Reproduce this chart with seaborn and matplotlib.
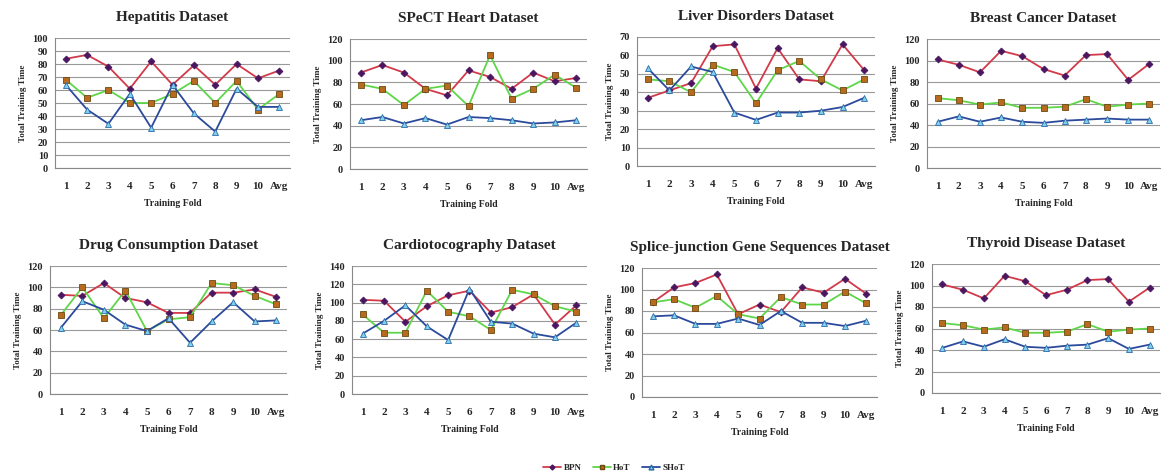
import pandas as pd
import numpy as np
import matplotlib
matplotlib.use("Agg")
import matplotlib.pyplot as plt
from matplotlib.lines import Line2D
import seaborn as sns

# fold labels shared by every panel
folds = ["1", "2", "3", "4", "5", "6", "7", "8", "9", "10", "Avg"]

# training times, one list per method and dataset
hep_bpn = [84, 87, 78, 61, 82, 64, 79, 64, 80, 69, 75]
hep_hot = [68, 54, 60, 50, 50, 57, 67, 50, 67, 45, 57]
hep_shot = [64, 45, 34, 57, 31, 64, 42, 28, 61, 47, 47]

spect_bpn = [89, 96, 89, 74, 68, 91, 85, 74, 89, 81, 84]
spect_hot = [78, 74, 59, 74, 77, 58, 105, 65, 74, 87, 75]
spect_shot = [45, 48, 42, 47, 41, 48, 47, 45, 42, 43, 45]

liver_bpn = [37, 41, 45, 65, 66, 42, 64, 47, 46, 66, 52]
liver_hot = [47, 46, 40, 55, 51, 34, 52, 57, 47, 41, 47]
liver_shot = [53, 41, 54, 51, 29, 25, 29, 29, 30, 32, 37]

breast_bpn = [101, 96, 89, 109, 104, 92, 86, 105, 106, 82, 97]
breast_hot = [65, 63, 59, 61, 56, 56, 57, 64, 57, 59, 60]
breast_shot = [43, 48, 43, 47, 43, 42, 44, 45, 46, 45, 45]

drug_bpn = [93, 92, 104, 90, 86, 76, 76, 95, 95, 98, 91]
drug_hot = [74, 100, 71, 97, 59, 70, 72, 104, 102, 92, 84]
drug_shot = [62, 87, 79, 65, 59, 71, 48, 68, 86, 68, 69]

cardio_bpn = [103, 102, 79, 96, 108, 113, 89, 95, 109, 76, 97]
cardio_hot = [87, 67, 67, 113, 90, 85, 70, 114, 109, 96, 90]
cardio_shot = [66, 80, 97, 74, 59, 115, 79, 77, 66, 62, 78]

splice_bpn = [88, 102, 106, 114, 77, 86, 79, 102, 97, 110, 96]
splice_hot = [88, 91, 83, 94, 77, 73, 93, 86, 86, 98, 87]
splice_shot = [75, 76, 68, 68, 73, 67, 80, 69, 69, 66, 71]

thyroid_bpn = [101, 96, 88, 109, 104, 91, 96, 105, 106, 85, 98]
thyroid_hot = [65, 63, 59, 61, 56, 56, 57, 64, 57, 59, 60]
thyroid_shot = [42, 48, 43, 50, 43, 42, 44, 45, 51, 41, 45]

titles = ["Hepatitis Dataset", "SPeCT Heart Dataset", "Liver Disorders Dataset",
          "Breast Cancer Dataset", "Drug Consumption Dataset", "Cardiotocography Dataset",
          "Splice-junction Gene Sequences Dataset", "Thyroid Disease Dataset"]
ymaxes = [100, 120, 70, 120, 120, 140, 120, 120]
ysteps = [10, 20, 10, 20, 20, 20, 20, 20]
panels = [(hep_bpn, hep_hot, hep_shot), (spect_bpn, spect_hot, spect_shot),
          (liver_bpn, liver_hot, liver_shot), (breast_bpn, breast_hot, breast_shot),
          (drug_bpn, drug_hot, drug_shot), (cardio_bpn, cardio_hot, cardio_shot),
          (splice_bpn, splice_hot, splice_shot), (thyroid_bpn, thyroid_hot, thyroid_shot)]

methods = ["BPN", "HoT", "SHoT"]
line_col = {"BPN": "#d23a4a", "HoT": "#5fd64a", "SHoT": "#2c4a9c"}
face_col = {"BPN": "#4a1660", "HoT": "#b86a1e", "SHoT": "#7fd0ee"}
edge_col = {"BPN": "#4a1660", "HoT": "#6a4a10", "SHoT": "#2c6aa8"}
mark = {"BPN": "D", "HoT": "s", "SHoT": "^"}
msize = {"BPN": 3.5, "HoT": 4.5, "SHoT": 4.5}

sns.set_style("white")
plt.rcParams["font.family"] = ["Liberation Serif", "DejaVu Serif"]
plt.rcParams["font.weight"] = "bold"

W, H = 1166, 476
fig = plt.figure(figsize=(W / 100, H / 100), dpi=100)

# axes boxes in pixels: left, right, top, bottom
boxes = [(55, 290, 38, 168), (350, 587, 39, 169), (637, 875, 37, 166), (927, 1160, 39, 168),
         (50, 287, 266, 394), (352, 587, 266, 394), (642, 877, 268, 397), (932, 1160, 264, 393)]

x = np.arange(1, len(folds) + 1)
for i, (l, r, t, b) in enumerate(boxes):
    ax = fig.add_axes([l / W, 1 - b / H, (r - l) / W, (b - t) / H])
    df = pd.DataFrame({"pos": np.tile(x, 3),
                       "time": np.concatenate(panels[i]),
                       "method": np.repeat(methods, len(x))})
    for m in methods:
        sub = df[df["method"] == m]
        sns.lineplot(data=sub, x="pos", y="time", ax=ax, color=line_col[m], lw=1.3,
                     marker=mark[m], markersize=msize[m], markerfacecolor=face_col[m],
                     markeredgecolor=edge_col[m], markeredgewidth=0.6, zorder=3)
    ax.set_xlim(0.5, len(folds) + 0.5)
    ax.set_ylim(0, ymaxes[i])
    ax.set_yticks(np.arange(0, ymaxes[i] + 1, ysteps[i]))
    ax.set_xticks(x)
    ax.set_xticklabels(folds)
    ax.set_xticks(np.arange(0.5, len(folds) + 1, 1), minor=True)
    ax.tick_params(axis="x", which="major", length=0, labelsize=8, pad=10)
    ax.tick_params(axis="x", which="minor", length=3, color="#888888", direction="in")
    ax.tick_params(axis="y", length=3, color="#888888", labelsize=7.5, pad=2)
    ax.yaxis.grid(True, color="#999999", lw=0.8)
    ax.set_axisbelow(True)
    for s in ["top", "right"]:
        ax.spines[s].set_visible(False)
    for s in ["left", "bottom"]:
        ax.spines[s].set_color("#888888")
        ax.spines[s].set_linewidth(0.8)
    ax.set_title(titles[i], fontsize=11, fontweight="bold", pad=12)
    ax.set_xlabel("Training Fold", fontsize=7, fontweight="bold", labelpad=6)
    ax.set_ylabel("Total Training Time", fontsize=6.5, fontweight="bold", labelpad=4)

handles = [Line2D([], [], color=line_col[m], lw=1.3, marker=mark[m], markersize=msize[m] - 1,
                  markerfacecolor=face_col[m], markeredgecolor=edge_col[m]) for m in methods]
fig.legend(handles, methods, loc="center", bbox_to_anchor=(614 / W, 1 - 468 / H), ncol=3,
           frameon=False, fontsize=6.5, handlelength=2, columnspacing=1.2, handletextpad=0.3)

fig.savefig("out.png", dpi=100)
